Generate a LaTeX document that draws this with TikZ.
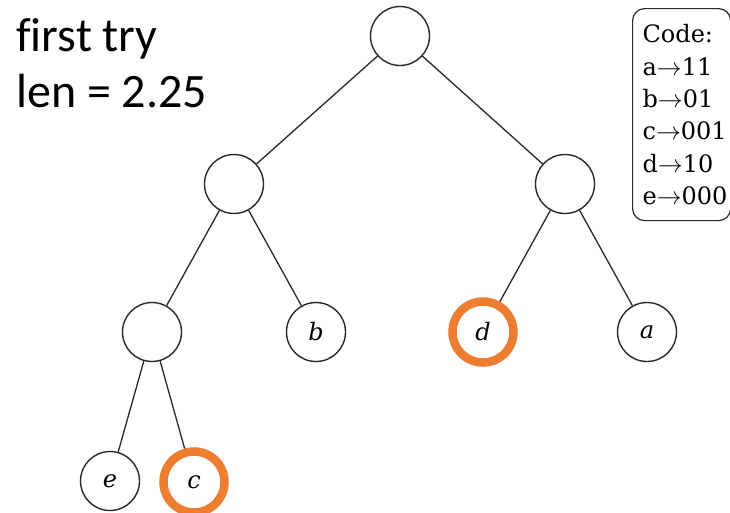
\documentclass[tikz,border=0pt]{standalone}
\usepackage{fontspec}
\setmainfont{DejaVu Serif}
\newfontfamily\slidefont[Ligatures=NoCommon]{Carlito}
\usetikzlibrary{positioning}

\definecolor{hilite}{RGB}{237,125,49}
\definecolor{edgegray}{RGB}{40,40,40}

\begin{document}
\begin{tikzpicture}[x=1pt, y=-1pt,
        vert/.style={circle, draw=edgegray, line width=1.4pt, fill=white,
                     minimum size=59pt, inner sep=0pt,
                     font=\fontsize{24}{24}\selectfont\itshape},
        pick/.style={vert, draw=hilite, line width=8.5pt, minimum size=61pt},
        edge/.style={draw=edgegray, line width=1.3pt},
        codebox/.style={rectangle, draw=edgegray, line width=1.2pt,
                        rounded corners=12pt, align=left, text width=78pt,
                        inner xsep=10pt, minimum height=212pt,
                        font=\fontsize{24}{32.3}\selectfont},
        on grid]
      \useasboundingbox (0,0) rectangle (730,512);

      % the tree
      \node[vert] (root) at (400,36) {};
      \node[vert, below left=148pt and 166pt of root] (l) {};
      \node[vert, below right=148pt and 165pt of root] (r) {};
      \node[vert, below left=148pt and 82pt of l] (ll) {};
      \node[vert, below right=148pt and 82pt of l] (b) {b};
      \node[pick, below left=148pt and 82pt of r] (d) {d};
      \node[vert, below right=148pt and 82pt of r] (a) {a};
      \node[vert, below left=149pt and 42pt of ll] (e) {e};
      \node[pick, below right=150pt and 42pt of ll] (c) {c};

      \draw[edge] (root) -- (l);
      \draw[edge] (root) -- (r);
      \draw[edge] (l) -- (ll);
      \draw[edge] (l) -- (b);
      \draw[edge] (r) -- (d);
      \draw[edge] (r) -- (a);
      \draw[edge] (ll) -- (e);
      \draw[edge] (ll) -- (c);

      % code table and caption
      \node[codebox, anchor=north west] (code) at (632,8)
        {Code:\\ a$\rightarrow$11\\ b$\rightarrow$01\\ c$\rightarrow$001\\
         d$\rightarrow$10\\ e$\rightarrow$000};
      \node[anchor=north west, align=left, inner sep=0pt,
            font=\slidefont\fontsize{48}{56}\selectfont] (title) at (16,18)
        {first try\\len = 2.25};
    \end{tikzpicture}
\end{document}
